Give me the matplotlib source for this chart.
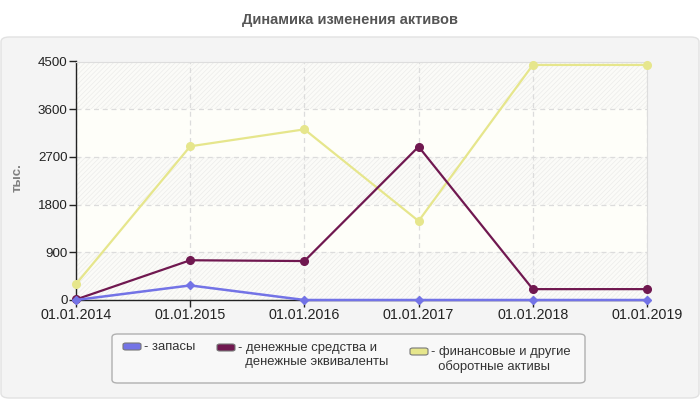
import matplotlib
matplotlib.use("Agg")
import matplotlib.pyplot as plt
from matplotlib.patches import FancyBboxPatch
import numpy as np

plt.rcParams['font.family'] = ['Liberation Sans', 'DejaVu Sans']
plt.rcParams['hatch.linewidth'] = 0.5

dates = ["01.01.2014", "01.01.2015", "01.01.2016", "01.01.2017", "01.01.2018", "01.01.2019"]
zapasy = [0, 275, 0, 0, 0, 0]
den_sredstva = [10, 750, 735, 2893, 205, 205]
fin_aktivy = [300, 2900, 3220, 1490, 4435, 4435]
yticks = [0, 900, 1800, 2700, 3600, 4500]
series_labels = ["- запасы",
                 "- денежные средства и\n  денежные эквиваленты",
                 "- финансовые и другие\n  оборотные активы"]
colors = ["#7373e6", "#701850", "#e6e68c"]
title = "Динамика изменения активов"
ylabel = "тыс."

W, H = 700, 400
fig = plt.figure(figsize=(7, 4), dpi=100)
fig.patch.set_facecolor("white")

def px(x, y):
    return (x / W, 1 - y / H)

# outer panel
x0, y0 = px(1, 398)
x1, y1 = px(699, 37)
panel = FancyBboxPatch((x0, y0), x1 - x0, y1 - y0, boxstyle="round,pad=0,rounding_size=0.012",
                       transform=fig.transFigure, facecolor="#f4f4f4", edgecolor="#e2e2e2",
                       linewidth=1, zorder=-5)
fig.patches.append(panel)

fig.text(*px(350, 20), title, ha="center", va="center", fontsize=10.5, fontweight="bold", color="#555555")

ax = fig.add_axes([76 / W, 1 - 300 / H, 571 / W, 238.5 / H], zorder=1)
ax.set_facecolor("#fefef9")
x = np.arange(len(dates))

# bands
for i in range(len(yticks) - 1):
    if i % 2 == 0:
        ax.axhspan(yticks[i], yticks[i + 1], facecolor="#fbfbf8", edgecolor="#ececea",
                   hatch="///////", linewidth=0, zorder=0)

ax.set_xlim(0, len(dates) - 1)
ax.set_ylim(0, 4500)
ax.set_yticks(yticks)
ax.set_yticklabels([str(v) for v in yticks], fontsize=9.6, color="#222222")
ax.set_xticks(x)
ax.set_xticklabels(dates, fontsize=10.3, color="#222222")
ax.grid(True, linestyle=(0, (4, 3)), color="#dcdcdc", linewidth=0.9, zorder=1)
ax.set_axisbelow(True)
for s in ["top", "right"]:
    ax.spines[s].set_color("#dddddd")
for s in ["left", "bottom"]:
    ax.spines[s].set_color("#222222")
    ax.spines[s].set_linewidth(1)
ax.tick_params(axis="both", length=5, color="#222222", width=1, pad=1)

ax.plot(x, fin_aktivy, color=colors[2], linewidth=1.6, marker="o", markersize=5.5, zorder=3, clip_on=False)
ax.plot(x, den_sredstva, color=colors[1], linewidth=1.6, marker="o", markersize=5.5, zorder=4, clip_on=False)
ax.plot(x, zapasy, color=colors[0], linewidth=1.8, marker="D", markersize=4.5, zorder=5, clip_on=False)

fig.text(*px(18, 178), ylabel, rotation=90, ha="center", va="center", fontsize=9.5,
         fontweight="bold", color="#808080")

# legend
lx0, ly0 = px(112, 383)
lx1, ly1 = px(585, 334)
lbox = FancyBboxPatch((lx0, ly0), lx1 - lx0, ly1 - ly0, boxstyle="round,pad=0,rounding_size=0.008",
                      transform=fig.transFigure, facecolor="#f8f8f8", edgecolor="#b0b0b0",
                      linewidth=1, zorder=1)
fig.patches.append(lbox)
entries = [(123, 343, 144, 341), (217, 344, 238, 342), (410, 348, 431, 346)]
for (hx, hy, tx, ty), lab, c in zip(entries, series_labels, colors):
    bx, by = px(hx, hy + 7)
    h = FancyBboxPatch((bx, by), 18 / W, 7 / H, boxstyle="round,pad=0,rounding_size=0.004",
                       transform=fig.transFigure, facecolor=c, edgecolor="#777777",
                       linewidth=0.8, zorder=2)
    fig.patches.append(h)
    fig.text(*px(tx, ty), lab, ha="left", va="top", fontsize=9.4, color="#333333",
             linespacing=1.2, zorder=3)

fig.savefig("out.png", dpi=100, facecolor="white")
